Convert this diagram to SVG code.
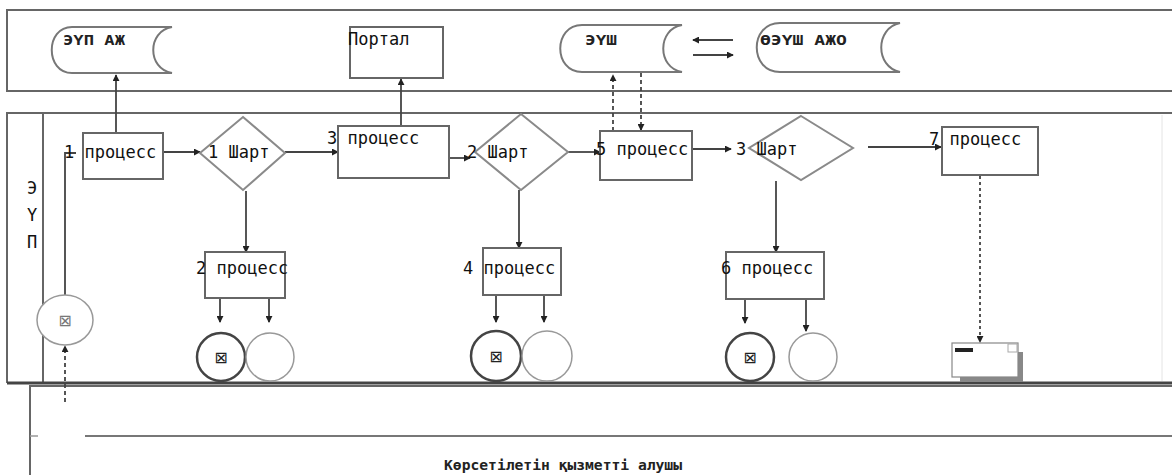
<svg xmlns="http://www.w3.org/2000/svg" width="1172" height="475" viewBox="0 0 1172 475">
<style>
.lane{fill:none;stroke:#666;stroke-width:2}
.box{fill:#fff;stroke:#666;stroke-width:2}
.dia{fill:#fff;stroke:#8a8a8a;stroke-width:2}
.store{fill:#fff;stroke:#777;stroke-width:2}
.c{fill:none;stroke:#444;stroke-width:1.8}
.dash{stroke-dasharray:4 3}
.dot{stroke-dasharray:3 3}
.t{font-family:"DejaVu Sans Mono","Liberation Mono",monospace;font-size:17px;fill:#111}
.ts{font-family:"DejaVu Sans Mono","Liberation Mono",monospace;font-size:14px;font-weight:bold;fill:#222}
.end{fill:#fff;stroke:#444;stroke-width:2.5}
.term{fill:#fff;stroke:#999;stroke-width:1.5}
.ico{font-family:"DejaVu Sans",sans-serif;font-size:16px;fill:#222}
</style>
<defs>
<marker id="ah" viewBox="0 0 8 8" refX="7" refY="4" markerWidth="7" markerHeight="7" orient="auto" markerUnits="userSpaceOnUse">
<path d="M0,0 L8,4 L0,8 Z" fill="#222"/>
</marker>
</defs>

<g id="lanes">
<path class="lane" d="M1172,10 H7 V91 H1172"/>
<path class="lane" d="M1172,113 H7 V383"/>
<line x1="43" y1="113" x2="43" y2="383" stroke="#666" stroke-width="2"/>
<line x1="7" y1="383" x2="1172" y2="383" stroke="#444" stroke-width="3"/>
<line x1="1162" y1="115" x2="1162" y2="381" stroke="#e4e4e4" stroke-width="1"/>
<path class="lane" d="M1172,386 H30 V475"/>
<line x1="85" y1="436" x2="1172" y2="436" stroke="#777" stroke-width="2"/>
<line x1="30" y1="436" x2="38" y2="436" stroke="#999" stroke-width="1.5"/>
<text class="t" x="32" y="194" text-anchor="middle" font-size="15">Э</text>
<text class="t" x="32" y="221" text-anchor="middle" font-size="15">Ү</text>
<text class="t" x="32" y="248" text-anchor="middle" font-size="15">П</text>
<text class="ts" x="563" y="470" text-anchor="middle" font-size="16" textLength="238" lengthAdjust="spacingAndGlyphs">Көрсетілетін қызметті алушы</text>
</g>

<g id="connectors">
<line class="c" x1="116" y1="133" x2="116" y2="75" marker-end="url(#ah)"/>
<path class="c" d="M65,295 V153 H76"/>
<line class="c dash" x1="65" y1="402" x2="65" y2="346" marker-end="url(#ah)"/>
<line class="c" x1="163" y1="152" x2="200" y2="152" marker-end="url(#ah)"/>
<line class="c" x1="285" y1="152" x2="338" y2="152" marker-end="url(#ah)"/>
<line class="c" x1="401" y1="126" x2="401" y2="79" marker-end="url(#ah)"/>
<line class="c" x1="449" y1="158" x2="470" y2="158" marker-end="url(#ah)"/>
<line class="c" x1="568" y1="152" x2="600" y2="152" marker-end="url(#ah)"/>
<line class="c" x1="692" y1="149" x2="731" y2="149" marker-end="url(#ah)"/>
<line class="c" x1="868" y1="147" x2="941" y2="147" marker-end="url(#ah)"/>
<line class="c dash" x1="613" y1="131" x2="613" y2="75" marker-end="url(#ah)"/>
<line class="c dash" x1="641" y1="73" x2="641" y2="130" marker-end="url(#ah)"/>
<line class="c" x1="733" y1="40" x2="693" y2="40" marker-end="url(#ah)"/>
<line class="c" x1="693" y1="55" x2="733" y2="55" marker-end="url(#ah)"/>
<line class="c" x1="246" y1="191" x2="246" y2="252" marker-end="url(#ah)"/>
<line class="c" x1="220" y1="298" x2="220" y2="322" marker-end="url(#ah)"/>
<line class="c" x1="269" y1="298" x2="269" y2="322" marker-end="url(#ah)"/>
<line class="c" x1="519" y1="190" x2="519" y2="248" marker-end="url(#ah)"/>
<line class="c" x1="496" y1="295" x2="496" y2="322" marker-end="url(#ah)"/>
<line class="c" x1="544" y1="295" x2="544" y2="322" marker-end="url(#ah)"/>
<line class="c" x1="776" y1="181" x2="776" y2="252" marker-end="url(#ah)"/>
<line class="c" x1="745" y1="299" x2="745" y2="323" marker-end="url(#ah)"/>
<line class="c" x1="806" y1="299" x2="806" y2="331" marker-end="url(#ah)"/>
<line class="c dot" x1="980" y1="176" x2="980" y2="342" marker-end="url(#ah)"/>
</g>

<g id="store-eup">
<path class="store" d="M72,27 H172 C147,31 147,69 172,73 H72 C45,73 45,27 72,27 Z"/>
<text class="ts" x="63" y="45" textLength="62" lengthAdjust="spacingAndGlyphs">ЭҮП  АЖ</text>
</g>
<g id="portal">
<rect class="box" x="350" y="27" width="93" height="51"/>
<text class="t" x="348" y="45">Портал</text>
</g>
<g id="store-eush">
<path class="store" d="M582,25 H682 C657,29 657,68 682,72 H582 C553,72 553,25 582,25 Z"/>
<text class="ts" x="585" y="45" textLength="32" lengthAdjust="spacingAndGlyphs">ЭҮШ</text>
</g>
<g id="store-oeush">
<path class="store" d="M780,23 H900 C875,28 875,67 900,72 H780 C749,72 749,23 780,23 Z"/>
<text class="ts" x="760" y="45" textLength="87" lengthAdjust="spacingAndGlyphs">ӨЭҮШ  АЖО</text>
</g>

<g id="start">
<ellipse cx="65" cy="320" rx="28" ry="25" fill="#fff" stroke="#999" stroke-width="1.5"/>
<text class="ico" x="65" y="326" text-anchor="middle" fill="#777" style="fill:#777">⊠</text>
</g>

<g id="p1">
<rect class="box" x="83" y="133" width="80" height="46"/>
<text class="t" x="64" y="158">1 процесс</text>
</g>
<g id="d1">
<polygon class="dia" points="243,117 285,153 243,190 200,153"/>
<text class="t" x="208" y="158">1 Шарт</text>
</g>
<g id="p3">
<rect class="box" x="338" y="126" width="111" height="52"/>
<text class="t" x="327" y="144">3 процесс</text>
</g>
<g id="d2">
<polygon class="dia" points="521,114 568,152 521,190 475,152"/>
<text class="t" x="467" y="158">2 Шарт</text>
</g>
<g id="p5">
<rect class="box" x="600" y="131" width="92" height="49"/>
<text class="t" x="596" y="155">5 процесс</text>
</g>
<g id="d3">
<polygon class="dia" points="801,116 853,148 801,180 749,148"/>
<text class="t" x="736" y="155">3 Шарт</text>
</g>
<g id="p7">
<rect class="box" x="942" y="127" width="96" height="48"/>
<text class="t" x="929" y="145">7 процесс</text>
</g>

<g id="p2">
<rect class="box" x="205" y="252" width="80" height="46"/>
<text class="t" x="196" y="274">2 процесс</text>
</g>
<g id="end2">
<circle class="end" cx="221" cy="357" r="24"/>
<text class="ico" x="221" y="363" text-anchor="middle">⊠</text>
</g>
<g id="term2"><circle class="term" cx="270" cy="357" r="24"/></g>

<g id="p4">
<rect class="box" x="483" y="248" width="78" height="47"/>
<text class="t" x="463" y="274">4 процесс</text>
</g>
<g id="end4">
<circle class="end" cx="496" cy="356" r="25"/>
<text class="ico" x="496" y="362" text-anchor="middle">⊠</text>
</g>
<g id="term4"><circle class="term" cx="547" cy="356" r="25"/></g>

<g id="p6">
<rect class="box" x="726" y="252" width="98" height="47"/>
<text class="t" x="721" y="274">6 процесс</text>
</g>
<g id="end6">
<circle class="end" cx="750" cy="357" r="24"/>
<text class="ico" x="750" y="363" text-anchor="middle">⊠</text>
</g>
<g id="term6"><circle class="term" cx="813" cy="357" r="24"/></g>

<g id="doc">
<rect x="960" y="352" width="63" height="30" fill="#888"/>
<rect x="952" y="343" width="66" height="34" fill="#fff" stroke="#888" stroke-width="1.2"/>
<rect x="955" y="348" width="18" height="4" fill="#222"/>
<rect x="1008" y="344" width="9" height="8" fill="#fff" stroke="#aaa" stroke-width="1"/>
</g>
</svg>
